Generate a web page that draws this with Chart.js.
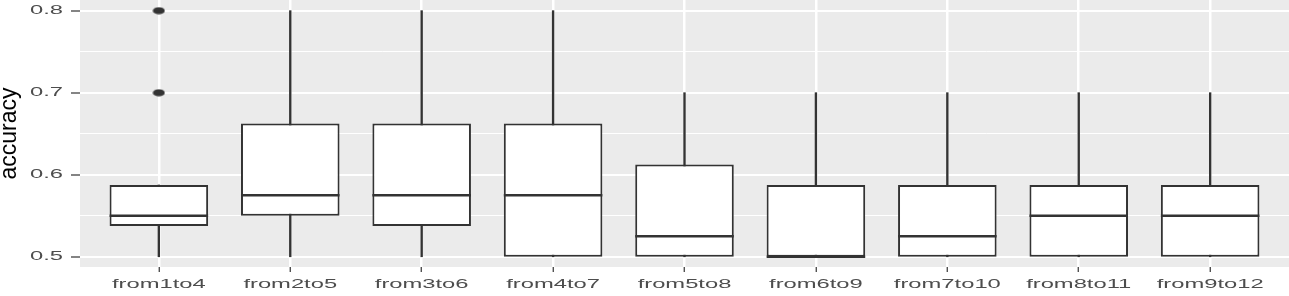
<!DOCTYPE html>
<html>
<head>
<meta charset="utf-8">
<script src="https://cdn.jsdelivr.net/npm/chart.js@4.4.1/dist/chart.umd.min.js"></script>
<style>
  html, body { margin: 0; padding: 0; background: #ffffff; }
  canvas { display: block; }
</style>
</head>
<body>
<canvas id="accChart" width="1289" height="296"></canvas>
<script>
// box plot values
const categories = ['from1to4', 'from2to5', 'from3to6', 'from4to7', 'from5to8', 'from6to9', 'from7to10', 'from8to11', 'from9to12'];
const whiskerLow = [0.5, 0.5, 0.5, 0.5, 0.5, 0.5, 0.5, 0.5, 0.5];
const q1 = [0.5375, 0.55, 0.5375, 0.5, 0.5, 0.5, 0.5, 0.5, 0.5];
const medians = [0.55, 0.575, 0.575, 0.575, 0.525, 0.5, 0.525, 0.55, 0.55];
const q3 = [0.5875, 0.6625, 0.6625, 0.6625, 0.6125, 0.5875, 0.5875, 0.5875, 0.5875];
const whiskerHigh = [0.5875, 0.8, 0.8, 0.8, 0.7, 0.7, 0.7, 0.7, 0.7];
const outlierCategory = ['from1to4', 'from1to4'];
const outlierValues = [0.7, 0.8];
const yTicks = [0.5, 0.55, 0.6, 0.65, 0.7, 0.75, 0.8];
const yTickLabels = ['0.5', '', '0.6', '', '0.7', '', '0.8'];

const xPos = categories.map((c, i) => i + 1);
const ink = '#333333';
const labelStretch = 1.9; // the source picture is stretched sideways

// outlier dot, a bit wider than tall like in the picture
const dot = document.createElement('canvas');
dot.width = 13;
dot.height = 8;
const dctx = dot.getContext('2d');
dctx.fillStyle = ink;
dctx.beginPath();
dctx.ellipse(6.5, 4, 6, 3.6, 0, 0, Math.PI * 2);
dctx.fill();

function halfBox(c) {
    const x = c.chart.scales.x;
    return 0.375 * (x.getPixelForValue(2) - x.getPixelForValue(1));
}

const panelPlugin = {
    id: 'panel',
    beforeDraw(chart) {
        const a = chart.chartArea;
        const ctx = chart.ctx;
        ctx.save();
        ctx.fillStyle = '#EBEBEB';
        ctx.fillRect(a.left, a.top, a.right - a.left, a.bottom - a.top);
        ctx.restore();
    },
    afterDatasetsDraw(chart) {
        // tick labels come after this (ticks.z = 1): widen them
        const ctx = chart.ctx;
        const orig = CanvasRenderingContext2D.prototype.fillText;
        ctx.fillText = function (text, x, y) {
            this.save();
            this.translate(x, y);
            this.scale(labelStretch, 1);
            orig.call(this, text, 0, 0);
            this.restore();
        };
    },
    afterDraw(chart) {
        delete chart.ctx.fillText;
    }
};

const tickFont = { family: 'Liberation Sans', size: 12.5 };

new Chart(document.getElementById('accChart'), {
    type: 'bar',
    data: {
        datasets: [
            {
                type: 'bar',
                label: 'whisker',
                data: xPos.map((x, i) => ({ x: x, y: [whiskerLow[i], whiskerHigh[i]] })),
                backgroundColor: ink,
                borderWidth: 0,
                barThickness: 1.7,
                grouped: false,
                order: 3
            },
            {
                type: 'bar',
                label: 'box',
                data: xPos.map((x, i) => ({ x: x, y: [q1[i], q3[i]] })),
                backgroundColor: '#ffffff',
                borderColor: ink,
                borderWidth: 2,
                borderSkipped: false,
                barPercentage: 0.75,
                categoryPercentage: 1,
                grouped: false,
                order: 2
            },
            {
                type: 'line',
                label: 'median',
                data: xPos.map((x, i) => ({ x: x, y: medians[i] })),
                showLine: false,
                pointStyle: 'line',
                pointRadius: halfBox,
                pointHoverRadius: halfBox,
                pointBorderWidth: 2.5,
                pointBorderColor: ink,
                order: 1
            },
            {
                type: 'line',
                label: 'outlier',
                data: outlierCategory.map((c, i) => ({ x: categories.indexOf(c) + 1, y: outlierValues[i] })),
                showLine: false,
                pointStyle: dot,
                order: 0
            }
        ]
    },
    options: {
        responsive: false,
        animation: false,
        devicePixelRatio: 1,
        layout: { padding: 0, autoPadding: false },
        plugins: {
            legend: { display: false },
            tooltip: { enabled: false }
        },
        scales: {
            x: {
                type: 'linear',
                min: 0.4,
                max: 9.6,
                offset: false,
                bounds: 'data',
                afterBuildTicks: s => { s.ticks = xPos.map(v => ({ value: v })); },
                afterFit: s => { s.height = 29; s.paddingLeft = 0; s.paddingRight = 0; },
                border: { display: false },
                grid: {
                    offset: false,
                    color: '#ffffff',
                    lineWidth: 2.5,
                    drawTicks: true,
                    tickLength: 5,
                    tickColor: ink,
                    tickWidth: 1.2
                },
                ticks: {
                    z: 1,
                    autoSkip: false,
                    maxRotation: 0,
                    padding: 5,
                    color: '#4D4D4D',
                    font: tickFont,
                    callback: v => categories[v - 1]
                }
            },
            y: {
                type: 'linear',
                min: 0.4875,
                max: 0.813,
                beginAtZero: false,
                bounds: 'data',
                afterBuildTicks: s => { s.ticks = yTicks.map(v => ({ value: v })); },
                afterFit: s => { s.width = 80; s.paddingTop = 0; s.paddingBottom = 0; },
                border: { display: false },
                grid: {
                    color: '#ffffff',
                    lineWidth: c => (yTickLabels[c.index] ? 2 : 1),
                    drawTicks: true,
                    tickLength: 9,
                    tickColor: c => (yTickLabels[c.index] ? ink : 'rgba(0,0,0,0)'),
                    tickWidth: 1.2
                },
                ticks: {
                    z: 1,
                    padding: 8,
                    color: '#4D4D4D',
                    font: tickFont,
                    callback: (v, i) => yTickLabels[i]
                },
                title: {
                    display: true,
                    text: 'accuracy',
                    color: '#000000',
                    padding: 0,
                    font: { family: "'Liberation Sans Narrow', 'Liberation Sans', sans-serif", size: 23, lineHeight: 0.8 }
                }
            }
        }
    },
    plugins: [panelPlugin]
});
</script>
</body>
</html>
